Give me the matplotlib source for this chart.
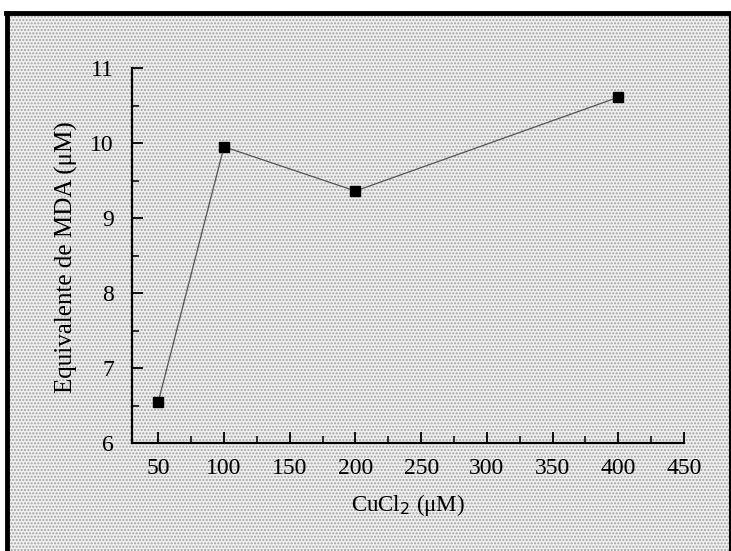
import matplotlib.pyplot as plt
from matplotlib.patches import Rectangle
from matplotlib.lines import Line2D
from matplotlib.ticker import MultipleLocator

cucl2 = [50, 100, 200, 400]
mda = [6.55, 9.95, 9.36, 10.61]

plt.rcParams['font.family'] = ['Liberation Serif', 'DejaVu Serif']

fig = plt.figure(figsize=(7.31, 5.51), dpi=100)
fig.patch.set_facecolor('white')

# scanned halftone background with black frame
top = 1 - 13 / 551
bg = Rectangle((7 / 731, 0), 722 / 731, top, transform=fig.transFigure,
               facecolor='#f0f0f0', edgecolor='#a0a0a0', hatch='.....',
               linewidth=0, zorder=-10)
fig.patches.append(bg)
fig.lines.append(Line2D([7 / 731, 7 / 731], [0, top], transform=fig.transFigure,
                        color='black', linewidth=3.5, zorder=-5))
fig.lines.append(Line2D([6 / 731, 1], [top, top], transform=fig.transFigure,
                        color='black', linewidth=3.5, zorder=-5))
fig.lines.append(Line2D([729.5 / 731, 729.5 / 731], [0, top], transform=fig.transFigure,
                        color='black', linewidth=1.5, zorder=-5))

ax = fig.add_axes([132 / 731, 108 / 551, 552 / 731, 375 / 551])
ax.set_zorder(5)
ax.set_facecolor('none')
ax.plot(cucl2, mda, color='#555555', linewidth=0.9, marker='s',
        markersize=7, markerfacecolor='black', markeredgecolor='black')

ax.set_xlim(30, 450)
ax.set_ylim(6, 11)
ax.xaxis.set_major_locator(MultipleLocator(50))
ax.xaxis.set_minor_locator(MultipleLocator(25))
ax.yaxis.set_major_locator(MultipleLocator(1))
ax.yaxis.set_minor_locator(MultipleLocator(0.5))

for side in ['top', 'right']:
    ax.spines[side].set_visible(False)
for side in ['left', 'bottom']:
    ax.spines[side].set_linewidth(1.6)

ax.tick_params(which='major', direction='in', length=8, width=1.3,
               labelsize=17)
ax.tick_params(axis='x', which='major', pad=11)
ax.tick_params(axis='y', which='major', pad=13)
ax.tick_params(which='minor', direction='in', length=5, width=1.1)

ax.set_xlabel('CuCl$_2$ (\u03bcM)', fontsize=16.5, labelpad=9)
ax.set_ylabel('Equivalente de MDA (\u03bcM)', fontsize=18)
ax.yaxis.set_label_coords(-0.097, 0.496)

fig.savefig('out.png', dpi=100)
